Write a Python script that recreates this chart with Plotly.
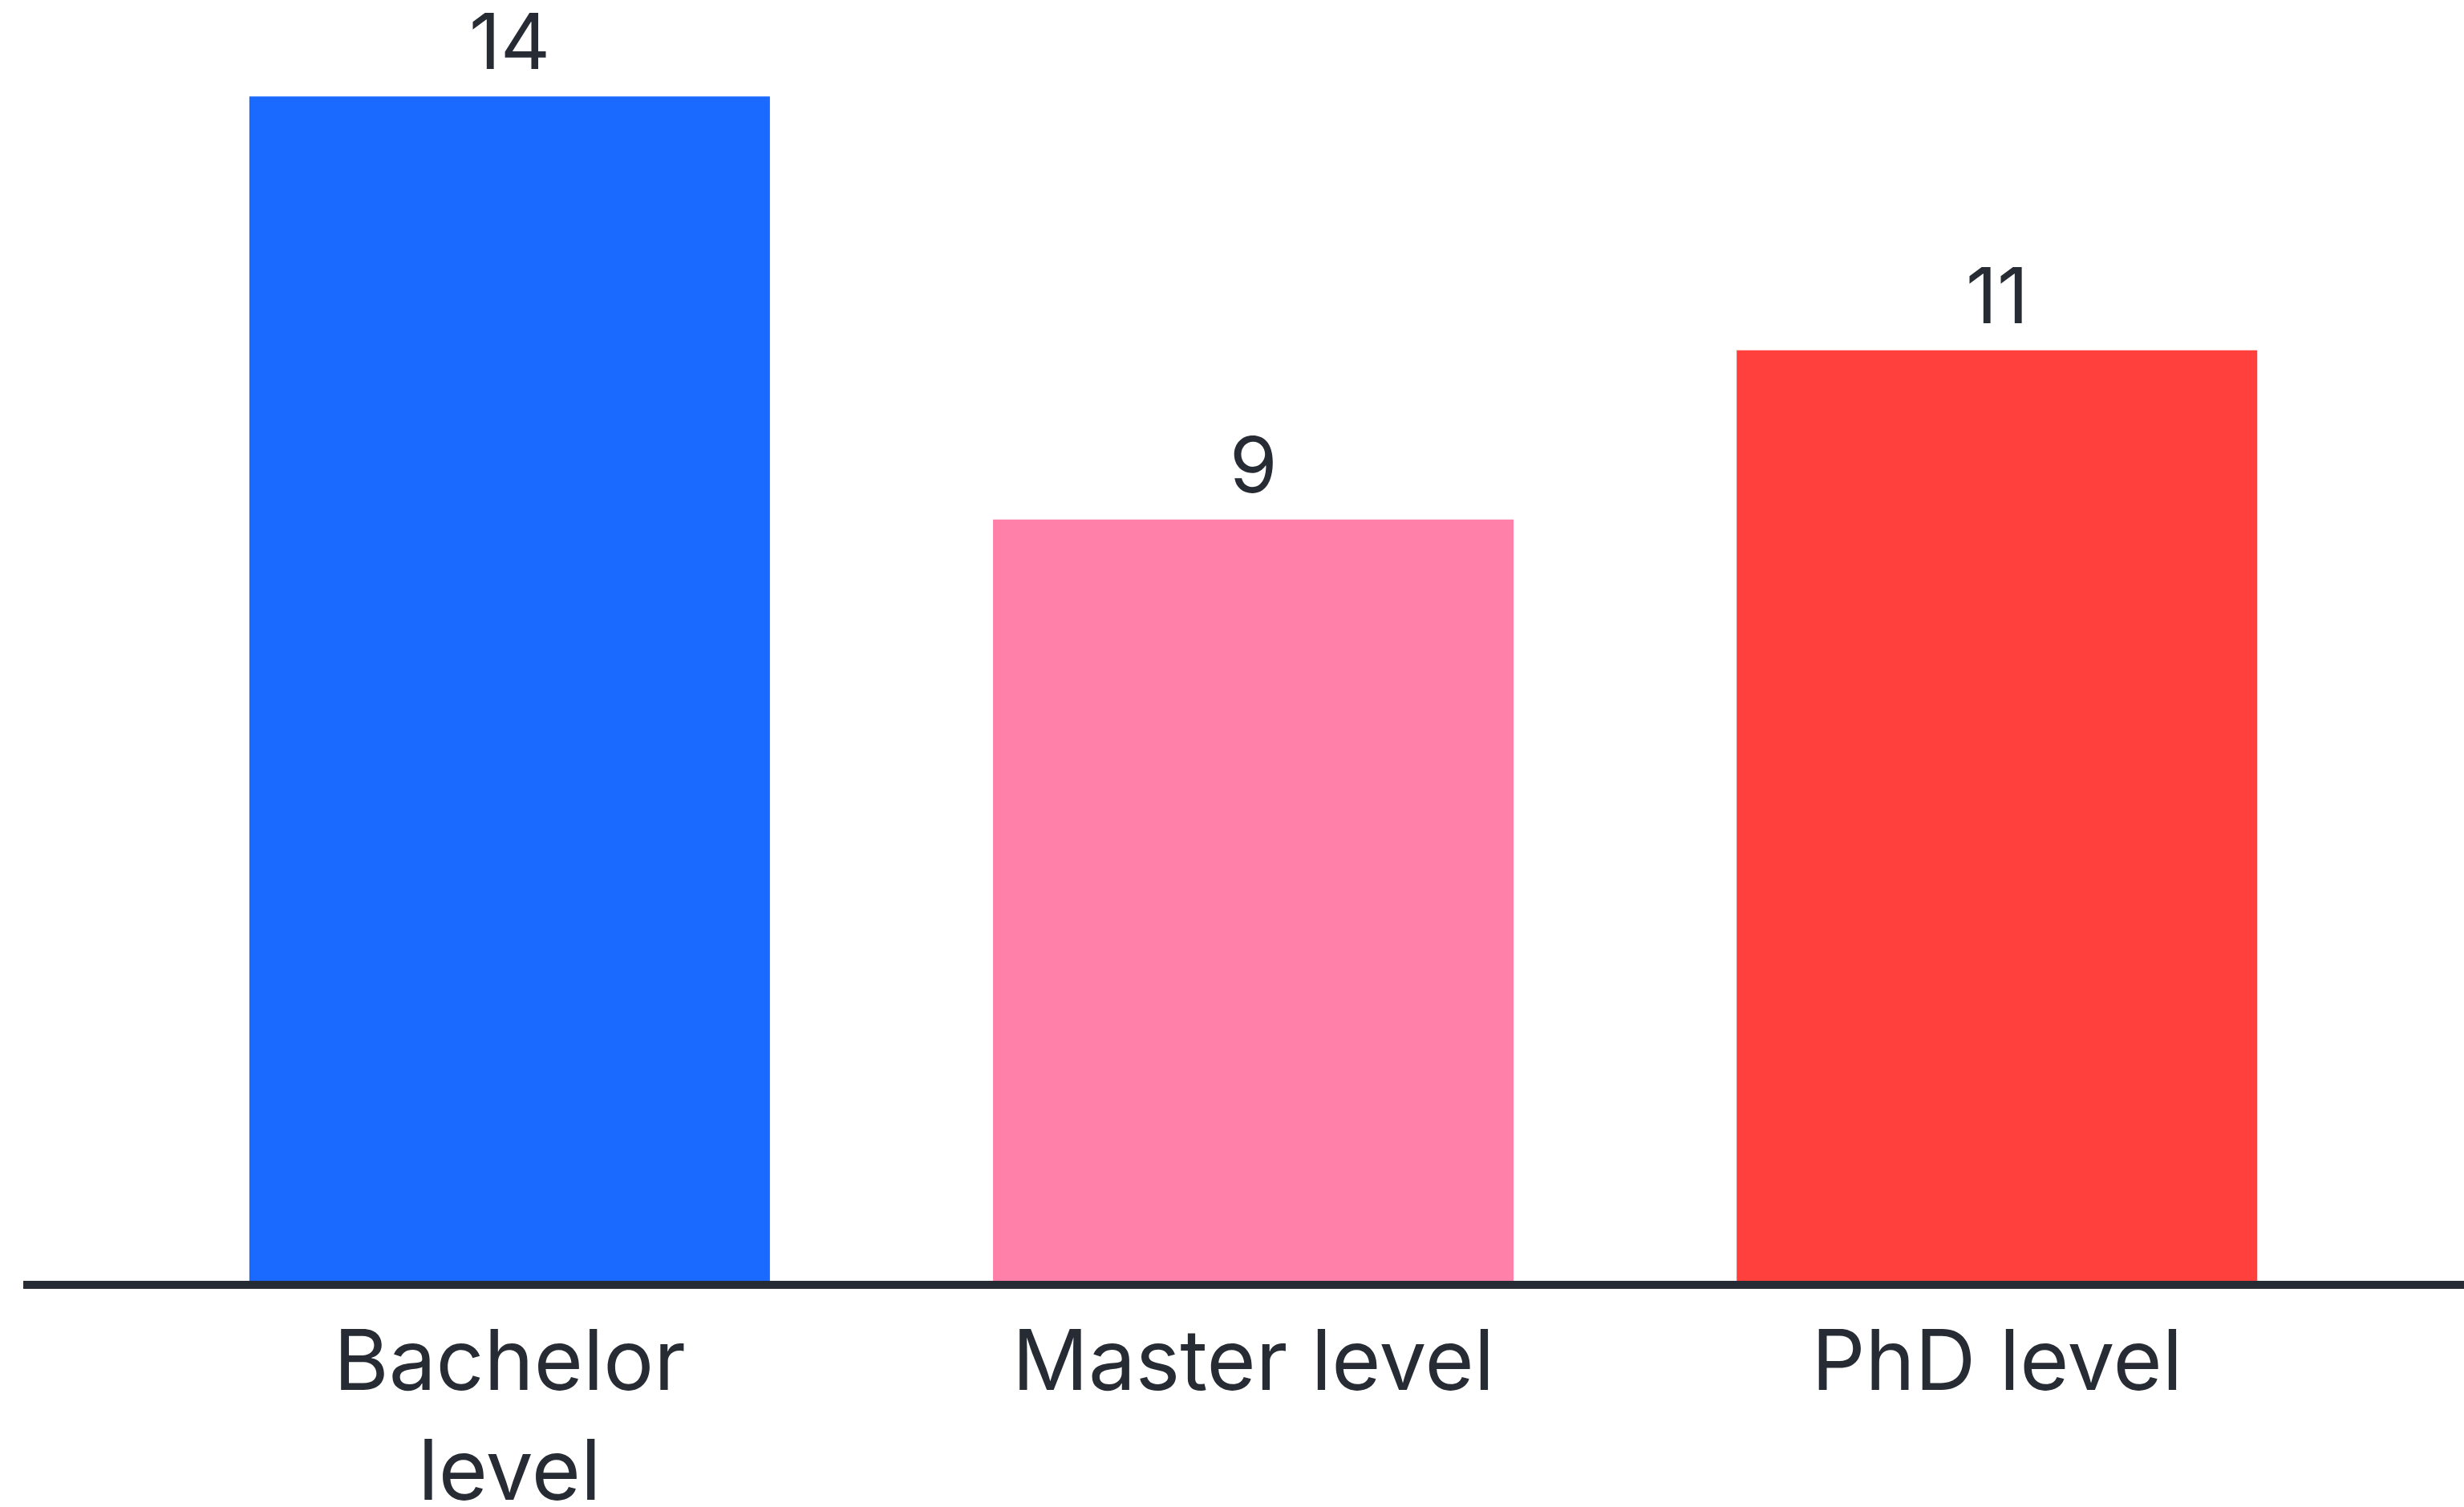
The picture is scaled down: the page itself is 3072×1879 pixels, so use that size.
import plotly.graph_objects as go

categories = ["Bachelor<br>level", "Master level", "PhD level"]
values = [14, 9, 11]
colors = ["#1A6AFF", "#FF80A8", "#FF403D"]

TEXT = "#272B33"
FONT = "Inter"

fig = go.Figure()
fig.add_trace(go.Bar(
    x=categories, y=values,
    marker=dict(color=colors, line=dict(width=0)),
    width=0.70,
    hoverinfo="skip",
))

for c, v in zip(categories, values):
    fig.add_annotation(
        x=c, y=v, text=str(v), showarrow=False,
        yanchor="bottom", yshift=9,
        font=dict(family=FONT, size=96, color=TEXT),
    )

fig.update_layout(
    width=3072, height=1879,
    margin=dict(l=29, r=0, t=0, b=282),
    paper_bgcolor="white", plot_bgcolor="white",
    showlegend=False,
    font=dict(family=FONT, color=TEXT),
    xaxis=dict(
        range=[-0.654, 2.628],
        automargin=False,
        showline=True, linecolor=TEXT, linewidth=10,
        showgrid=False, zeroline=False,
        ticks="", ticklen=0,
        tickfont=dict(family=FONT, size=105, color=TEXT),
        fixedrange=True,
    ),
    yaxis=dict(
        range=[0, 15.14], visible=False, showgrid=False, zeroline=False,
        automargin=False, fixedrange=True,
    ),
)

fig.write_html("out.html")
